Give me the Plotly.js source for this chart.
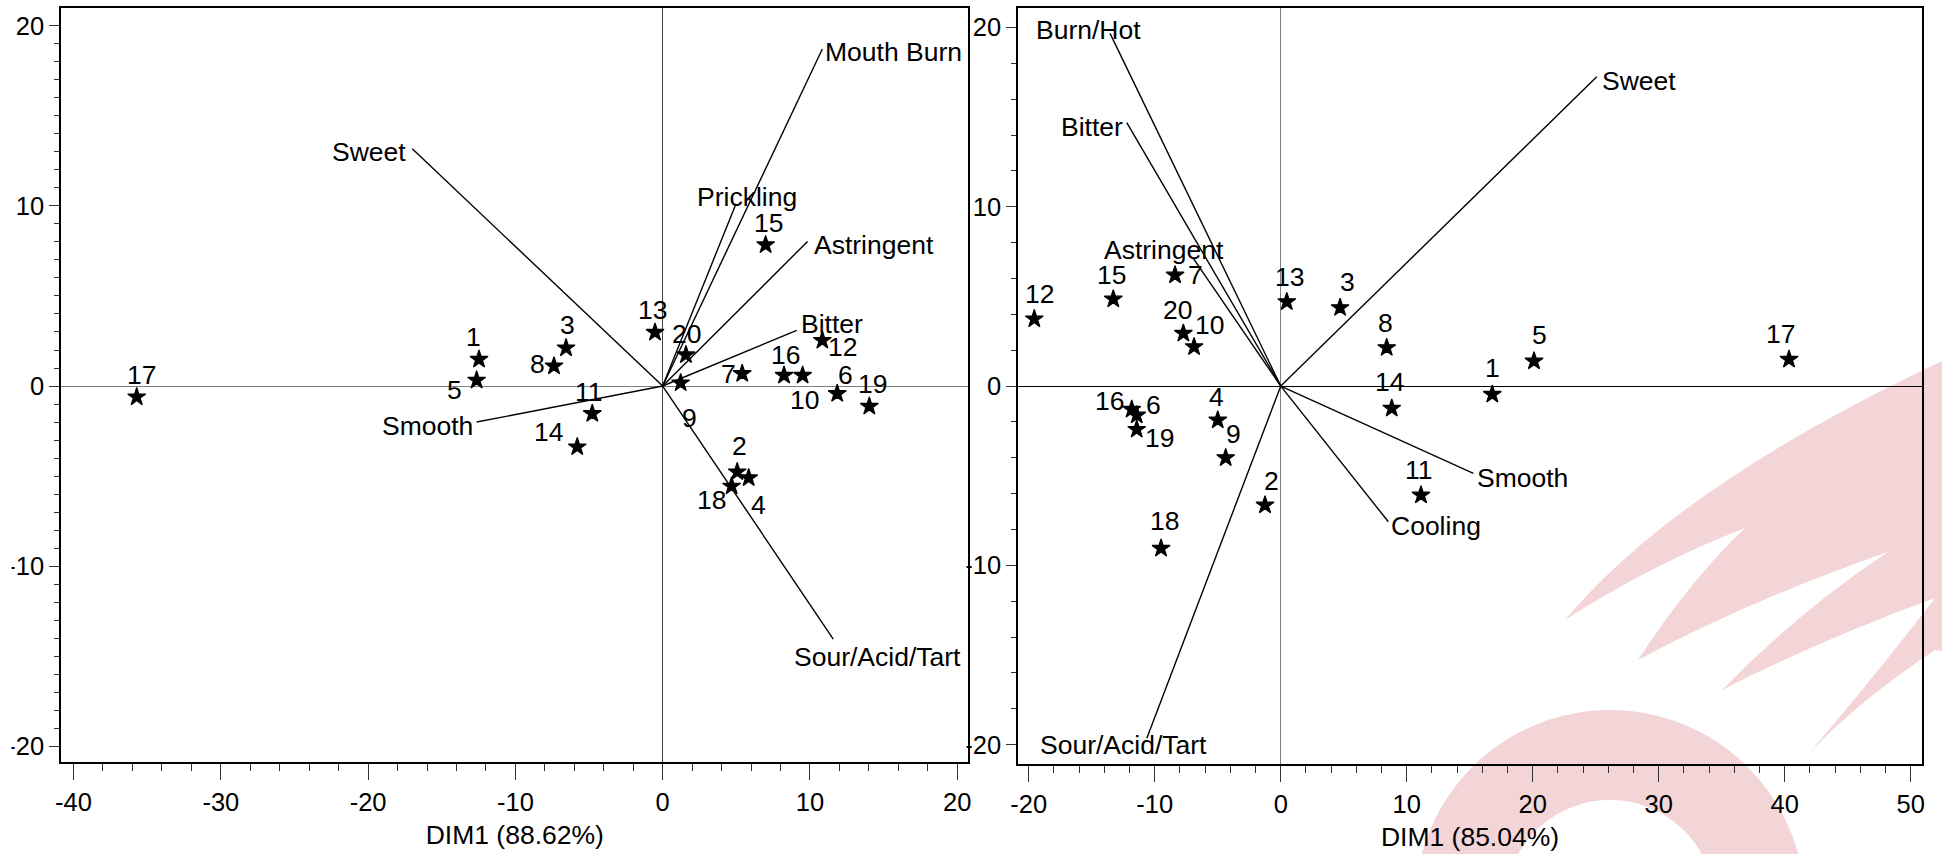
<!DOCTYPE html>
<html>
<head>
<meta charset="utf-8">
<script src="https://cdn.plot.ly/plotly-3.0.1.min.js"></script>
<style>
  html, body { margin: 0; padding: 0; background: #ffffff; }
  #chart { width: 1942px; height: 854px; }
</style>
</head>
<body>
<div id="chart"></div>
<script>
// ---------------- DATA ----------------
const sampleIds = ['1','2','3','4','5','6','7','8','9','10','11','12','13','14','15','16','17','18','19','20'];

// Left map (DIM1 88.62%)
const leftDim1 = [-12.47, 5.06, -6.56, 5.84, -12.63, 11.85, 5.40, -7.38, 1.22, 9.50,
                  -4.78, 10.84, -0.52, -5.80, 6.99, 8.24, -35.71, 4.68, 14.03, 1.58];
const leftDim2 = [1.48, -4.77, 2.11, -5.10, 0.32, -0.42, 0.69, 1.11, 0.17, 0.59,
                  -1.53, 2.53, 2.98, -3.38, 7.84, 0.59, -0.61, -5.56, -1.13, 1.73];

// Right map (DIM1 85.04%)
const rightDim1 = [16.79, -1.25, 4.71, -5.00, 20.10, -11.43, -8.39, 8.41, -4.37, -6.88,
                   11.13, -19.56, 0.48, 8.81, -13.29, -11.83, 40.34, -9.50, -11.43, -7.73];
const rightDim2 = [-0.46, -6.64, 4.37, -1.90, 1.39, -1.62, 6.19, 2.14, -4.00, 2.19,
                   -6.08, 3.74, 4.70, -1.24, 4.85, -1.30, 1.49, -9.05, -2.42, 2.94];

// Attribute vectors
const leftAttrs = ['Sweet', 'Smooth', 'Mouth Burn', 'Prickling', 'Astringent', 'Bitter', 'Sour/Acid/Tart'];
const leftAttrX = [-17.00, -12.63, 10.84, 4.98, 9.84, 9.10, 11.58];
const leftAttrY = [13.17, -2.00, 18.71, 10.12, 8.03, 3.09, -14.05];

const rightAttrs = ['Burn/Hot', 'Bitter', 'Astringent', 'Sweet', 'Smooth', 'Cooling', 'Sour/Acid/Tart'];
const rightAttrX = [-13.55, -12.22, -6.94, 25.08, 15.29, 8.54, -10.63];
const rightAttrY = [19.67, 14.69, 7.12, 17.25, -4.87, -7.57, -19.65];

// Axis ticks and titles
const leftXTickVals = [-40, -30, -20, -10, 0, 10, 20];
const leftXTickText = ['-40', '-30', '-20', '-10', '0', '10', '20'];
const rightXTickVals = [-20, -10, 0, 10, 20, 30, 40, 50];
const rightXTickText = ['-20', '-10', '0', '10', '20', '30', '40', '50'];
const yTickVals = [-20, -10, 0, 10, 20];
const yTickText = ['-20', '-10', '0', '10', '20'];
const leftXTitle = 'DIM1 (88.62%)';
const rightXTitle = 'DIM1 (85.04%)';

// ---------------- STYLE (label placement offsets in px: dx, dy(down), anchor) ----------------
const leftPtOff = [[-6,-22],[2,-26],[1,-23],[10,27],[-22,10],[8,-19],[-14,0],[-16,-2],[9,35],[2,25],
                   [-3,-22],[20,7],[-3,-22],[-29,-15],[3,-22],[1,-20],[5,-22],[-20,14],[3,-22],[1,-21]];
const rightPtOff = [[0,-26],[6,-24],[7,-26],[-1,-23],[5,-26],[17,-10],[20,0],[-1,-25],[8,-24],[15,-22],
                    [-2,-25],[5,-25],[3,-25],[-2,-26],[-2,-24],[-22,-8],[-9,-25],[3,-27],[23,9],[-6,-23]];
const leftAttrOff = [[-5,3,'right'],[-3,4,'right'],[2,3,'left'],[11,-7,'center'],[5,4,'left'],[3,-6,'left'],[44,18,'center']];
const rightAttrOff = [[-22,-3,'center'],[-3,4,'right'],[-29,-8,'center'],[4,4,'left'],[3,5,'left'],[2,4,'left'],[-23,7,'center']];

const FONT = 'Liberation Sans, Arial, Helvetica, sans-serif';
const W = 1942, H = 854;

// ---------------- TRACES ----------------
function vectorTrace(xs, ys, xa, ya) {
  const vx = [], vy = [];
  for (let i = 0; i < xs.length; i++) { vx.push(0, xs[i], null); vy.push(0, ys[i], null); }
  return { x: vx, y: vy, xaxis: xa, yaxis: ya, type: 'scatter', mode: 'lines',
           line: { color: '#000', width: 1.4 }, hoverinfo: 'skip', showlegend: false };
}
function starTrace(xs, ys, xa, ya) {
  return { x: xs, y: ys, xaxis: xa, yaxis: ya, type: 'scatter', mode: 'markers',
           marker: { symbol: 'star', size: 13.5, color: '#000', line: { width: 1.2, color: '#000' } },
           text: sampleIds, hoverinfo: 'text', showlegend: false };
}
const traces = [
  vectorTrace(leftAttrX, leftAttrY, 'x', 'y'),
  starTrace(leftDim1, leftDim2, 'x', 'y'),
  vectorTrace(rightAttrX, rightAttrY, 'x2', 'y2'),
  starTrace(rightDim1, rightDim2, 'x2', 'y2')
];

// ---------------- ANNOTATIONS ----------------
const annotations = [];
function addLabels(texts, xs, ys, offs, xr, yr, defAnchor) {
  for (let i = 0; i < texts.length; i++) {
    const o = offs[i];
    annotations.push({ text: texts[i], x: xs[i], y: ys[i], xref: xr, yref: yr,
      showarrow: false, xshift: o[0], yshift: -o[1], xanchor: o[2] || defAnchor, yanchor: 'middle',
      font: { family: FONT, size: 26.5, color: '#000' }, borderpad: 0 });
  }
}
addLabels(sampleIds, leftDim1, leftDim2, leftPtOff, 'x', 'y', 'center');
addLabels(sampleIds, rightDim1, rightDim2, rightPtOff, 'x2', 'y2', 'center');
addLabels(leftAttrs, leftAttrX, leftAttrY, leftAttrOff, 'x', 'y', 'center');
addLabels(rightAttrs, rightAttrX, rightAttrY, rightAttrOff, 'x2', 'y2', 'center');

// ---------------- WATERMARK (decorative background) ----------------
const PINK = '#f3d5d8';
function P(x, y) { return (x / W).toFixed(5) + ',' + (1 - y / H).toFixed(5); }
function ringPath(cx, cy, ro, ri) {
  let s = '';
  const n = 90;
  for (let k = 0; k <= n; k++) { const a = 2 * Math.PI * k / n;
    s += (k === 0 ? 'M' : 'L') + P(cx + ro * Math.cos(a), cy + ro * Math.sin(a)); }
  s += 'Z';
  for (let k = 0; k <= n; k++) { const a = -2 * Math.PI * k / n;
    s += (k === 0 ? 'M' : 'L') + P(cx + ri * Math.cos(a), cy + ri * Math.sin(a)); }
  return s + 'Z';
}
const trident = 'M' + P(1565, 620) +
  'Q' + P(1690, 470) + ' ' + P(2010, 330) +
  'L' + P(2010, 660) +
  'L' + P(1935, 650) +
  'Q' + P(1860, 700) + ' ' + P(1810, 752) +
  'Q' + P(1880, 670) + ' ' + P(1935, 598) +
  'Q' + P(1820, 640) + ' ' + P(1722, 690) +
  'Q' + P(1800, 610) + ' ' + P(1888, 552) +
  'Q' + P(1750, 600) + ' ' + P(1638, 660) +
  'Q' + P(1690, 580) + ' ' + P(1745, 528) +
  'Q' + P(1650, 565) + ' ' + P(1565, 620) + 'Z';

function rectPx(x0, y0, x1, y1) {
  return { type: 'rect', xref: 'paper', yref: 'paper', layer: 'above',
    x0: x0 / W, x1: x1 / W, y0: 1 - y1 / H, y1: 1 - y0 / H,
    fillcolor: '#ffffff', line: { width: 0 } };
}

const shapes = [
  { type: 'path', xref: 'paper', yref: 'paper', layer: 'below', path: ringPath(1610, 905, 195, 105),
    fillcolor: PINK, line: { width: 0 } },
  { type: 'path', xref: 'paper', yref: 'paper', layer: 'below', path: trident,
    fillcolor: PINK, line: { width: 0 } },
  // the reference crops the minus signs of some y tick labels
  rectPx(0, 550, 11.5, 582), rectPx(0, 730, 11.5, 762),
  rectPx(950, 550, 966.6, 582), rectPx(950, 729, 966.6, 760)
];

// ---------------- LAYOUT ----------------
function xAxis(domain, range, anchor, zc, title, tv, tt) {
  return { domain: domain, range: range, anchor: anchor, showgrid: false,
    zeroline: true, zerolinecolor: zc, zerolinewidth: 1,
    showline: true, mirror: true, linecolor: '#000', linewidth: 2,
    ticks: 'outside', ticklen: 16, tickwidth: 1, tickcolor: '#333',
    tickmode: 'array', tickvals: tv, ticktext: tt,
    minor: { ticks: 'outside', ticklen: 7, tickwidth: 1, tickcolor: '#333', tickmode: 'linear', tick0: 0, dtick: 2, showgrid: false },
    tickfont: { family: FONT, size: 25.5, color: '#000' },
    title: { text: title, font: { family: FONT, size: 26.5, color: '#000' }, standoff: 11 },
    fixedrange: true };
}
function yAxis(domain, range, anchor, zc, minorStep) {
  return { domain: domain, range: range, anchor: anchor, showgrid: false,
    zeroline: true, zerolinecolor: zc, zerolinewidth: 1,
    showline: true, mirror: true, linecolor: '#000', linewidth: 2,
    ticks: 'outside', ticklen: 10, tickwidth: 1, tickcolor: '#333',
    tickmode: 'array', tickvals: yTickVals, ticktext: yTickText,
    minor: { ticks: 'outside', ticklen: 5, tickwidth: 1, tickcolor: '#333', tickmode: 'linear', tick0: 0, dtick: minorStep, showgrid: false },
    tickfont: { family: FONT, size: 25.5, color: '#000' }, fixedrange: true };
}

const layout = {
  width: W, height: H,
  margin: { l: 0, r: 0, t: 0, b: 0 },
  paper_bgcolor: '#ffffff', plot_bgcolor: 'rgba(0,0,0,0)',
  showlegend: false,
  xaxis: xAxis([61.3 / W, 968.3 / W], [-40.83, 20.75], 'y', '#444', leftXTitle, leftXTickVals, leftXTickText),
  yaxis: yAxis([1 - 762.3 / H, 1 - 8.3 / H], [-20.89, 20.97], 'x', '#808080', 1),
  xaxis2: xAxis([1018.3 / W, 1921.7 / W], [-20.83, 50.87], 'y2', '#808080', rightXTitle, rightXTickVals, rightXTickText),
  yaxis2: yAxis([1 - 764 / H, 1 - 8.3 / H], [-21.08, 21.07], 'x2', '#000', 2),
  annotations: annotations,
  shapes: shapes
};

Plotly.newPlot('chart', traces, layout, { staticPlot: true, displayModeBar: false });
</script>
</body>
</html>
